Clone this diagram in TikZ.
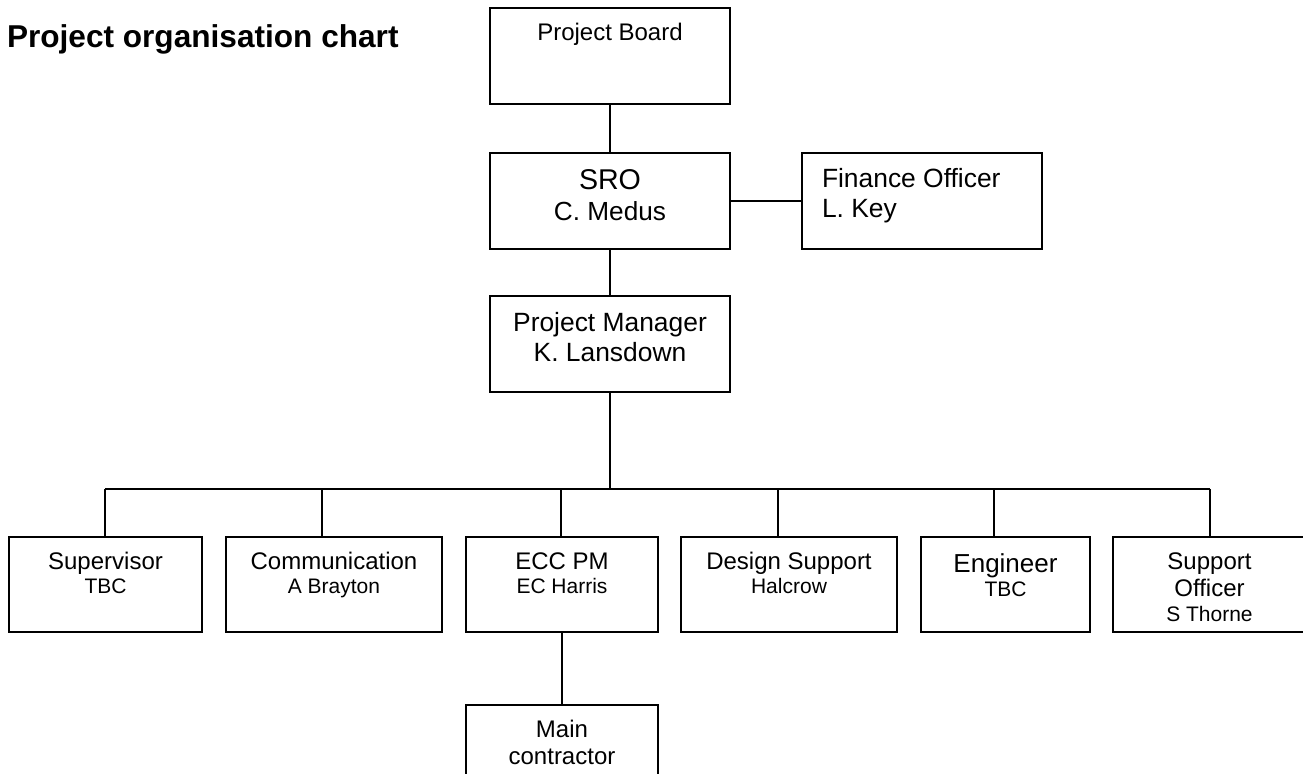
\documentclass[tikz,border=0pt]{standalone}
\usepackage{fontspec}
\setmainfont{Liberation Sans}
\newcommand\fsz[1]{\fontsize{#1}{#1}\selectfont}
\begin{document}
\begin{tikzpicture}[x=0.5pt,y=-0.5pt,
  box/.style={draw, line width=0.6pt, rectangle, inner sep=0pt, outer sep=0pt},
  wire/.style={line width=0.6pt},
  txt/.style={anchor=base, inner sep=0pt, outer sep=0pt}]
\useasboundingbox (0,0) rectangle (1303,774);
\fill[white] (0,0) rectangle (1303,774);

% title
\node[txt, anchor=base west, font=\bfseries\fsz{15.8}] (title) at (7,48) {Project organisation chart};

% upper boxes
\node[box, minimum width=120pt, minimum height=48pt] (PB)  at (610,56)  {};
\node[box, minimum width=120pt, minimum height=48pt] (SRO) at (610,201) {};
\node[box, minimum width=120pt, minimum height=48pt] (FIN) at (922,201) {};
\node[box, minimum width=120pt, minimum height=48pt] (PM)  at (610,344) {};

% lower boxes
\node[box, minimum width=96.5pt, minimum height=47.5pt] (SUP)  at (105.5,584.5)  {};
\node[box, minimum width=108pt,  minimum height=47.5pt] (COM)  at (334,584.5)    {};
\node[box, minimum width=96pt,   minimum height=47.5pt] (ECC)  at (562,584.5)    {};
\node[box, minimum width=108pt,  minimum height=47.5pt] (DES)  at (789,584.5)    {};
\node[box, minimum width=84.5pt, minimum height=47.5pt] (ENG)  at (1005.5,584.5) {};
\node[box, minimum width=96.5pt, minimum height=47.5pt] (SUPO) at (1209.5,584.5) {};
\node[box, minimum width=96pt,   minimum height=42.5pt] (MAIN) at (562,747.5)    {};

% texts
\node[txt, font=\fsz{12}] (tPB) at (610,41) {Project Board};
\node[txt, font=\fsz{14.3}] (tSRO1) at (610,190) {SRO};
\node[txt, font=\fsz{13.1}] (tSRO2) at (610,221) {C. Medus};
\node[txt, anchor=base west, font=\fsz{13.2}] (tFIN1) at (822,188) {Finance Officer};
\node[txt, anchor=base west, font=\fsz{13.2}] (tFIN2) at (822,218) {L. Key};
\node[txt, font=\fsz{13.2}] (tPM1) at (610,332) {Project Manager};
\node[txt, font=\fsz{13.2}] (tPM2) at (610,362) {K. Lansdown};

\node[txt, font=\fsz{12}]   (tSUP1) at (105.5,570) {Supervisor};
\node[txt, font=\fsz{10.5}] (tSUP2) at (105.5,594) {TBC};
\node[txt, font=\fsz{12}]   (tCOM1) at (334,570) {Communication};
\node[txt, font=\fsz{10.5}] (tCOM2) at (334,594) {A Brayton};
\node[txt, font=\fsz{12}]   (tECC1) at (562,570) {ECC PM};
\node[txt, font=\fsz{10.5}] (tECC2) at (562,594) {EC Harris};
\node[txt, font=\fsz{12}]   (tDES1) at (789,570) {Design Support};
\node[txt, font=\fsz{10.5}] (tDES2) at (789,594) {Halcrow};
\node[txt, font=\fsz{13}]   (tENG1) at (1005.5,573) {Engineer};
\node[txt, font=\fsz{10.5}] (tENG2) at (1005.5,597) {TBC};
\node[txt, font=\fsz{12}]   (tSO1) at (1209.5,570) {Support};
\node[txt, font=\fsz{12}]   (tSO2) at (1209.5,597) {Officer};
\node[txt, font=\fsz{10.5}] (tSO3) at (1209.5,622) {S Thorne};
\node[txt, font=\fsz{12}]   (tMC1) at (562,738) {Main};
\node[txt, font=\fsz{12}]   (tMC2) at (562,765) {contractor};

% bus coordinates
\coordinate (b1) at (105,489);
\coordinate (b2) at (322,489);
\coordinate (b3) at (561,489);
\coordinate (b4) at (778,489);
\coordinate (b5) at (994,489);
\coordinate (b6) at (1210,489);

% connectors
\draw[wire] (PB.south) -- (SRO.north);
\draw[wire] (SRO.south) -- (PM.north);
\draw[wire] (SRO.east) -- (FIN.west);
\draw[wire] (PM.south) -- (PM.south |- b1);
\draw[wire] (b1) -- (b6);
\draw[wire] (b1) -- (b1 |- SUP.north);
\draw[wire] (b2) -- (b2 |- COM.north);
\draw[wire] (b3) -- (b3 |- ECC.north);
\draw[wire] (b4) -- (b4 |- DES.north);
\draw[wire] (b5) -- (b5 |- ENG.north);
\draw[wire] (b6) -- (b6 |- SUPO.north);
\draw[wire] (ECC.south) -- (MAIN.north);
\end{tikzpicture}
\end{document}
